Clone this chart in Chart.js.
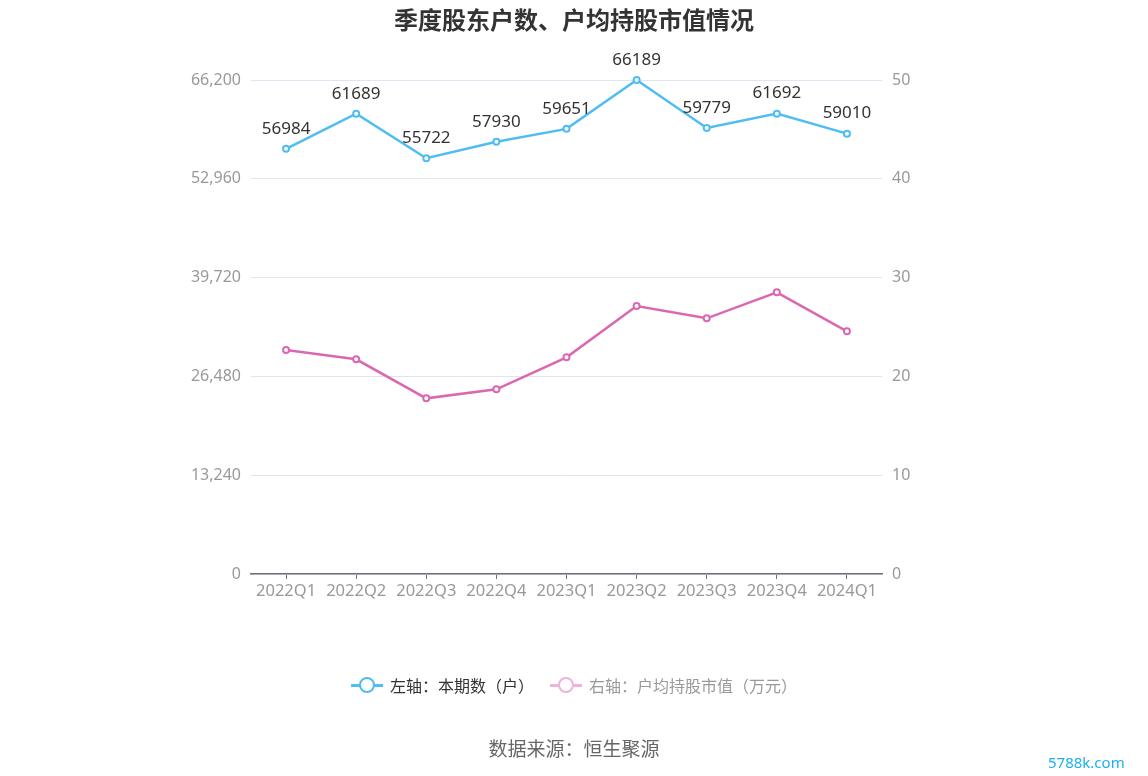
<!DOCTYPE html>
<html lang="zh">
<head>
<meta charset="utf-8">
<title>季度股东户数、户均持股市值情况</title>
<script src="https://cdn.jsdelivr.net/npm/chart.js@4.4.0/dist/chart.umd.min.js"></script>
<style>
  body { margin: 0; background: #fff; font-family: "Noto Sans CJK SC", "Noto Sans", sans-serif; }
  #wrap { position: relative; width: 1148px; height: 776px; }
  #chart { position: absolute; left: 0; top: 0; }
  .title { position: absolute; left: 0; width: 1148px; top: 1px; text-align: center; font-size: 24px; font-weight: bold; color: #333; }
  .legend { position: absolute; top: 673px; left: 0; width: 1148px; display: flex; justify-content: center; font-size: 16px; }
  .item { display: flex; align-items: center; margin: 0 8px; }
  .icon { position: relative; width: 32px; height: 24px; margin-right: 7px; }
  .icon .ln { position: absolute; left: 0; right: 0; top: 11px; height: 2.5px; }
  .icon .dot { position: absolute; left: 8px; top: 4px; width: 12px; height: 12px; border-radius: 50%; background: #fff; border: 2.5px solid; }
  .source { position: absolute; top: 734px; left: 0; width: 1148px; text-align: center; font-size: 19px; color: #666; }
  .mark { position: absolute; left: 1048px; top: 752px; font-size: 15px; color: #1ab0f0; font-family: "Noto Sans", sans-serif; }
</style>
</head>
<body>
<div id="wrap">
  <canvas id="chart" width="1148" height="776"></canvas>
  <div class="title">季度股东户数、户均持股市值情况</div>
  <div class="legend">
    <div class="item" style="color:#333">
      <div class="icon"><div class="ln" style="background:#4fbdf3"></div><div class="dot" style="border-color:#4fbdf3"></div></div>
      左轴：本期数（户）
    </div>
    <div class="item" style="color:#999">
      <div class="icon"><div class="ln" style="background:#eeb3d9"></div><div class="dot" style="border-color:#eeb3d9"></div></div>
      右轴：户均持股市值（万元）
    </div>
  </div>
  <div class="source">数据来源：恒生聚源</div>
  <div class="mark">5788k.com</div>
</div>

<script>
// 季度
var quarters = ["2022Q1", "2022Q2", "2022Q3", "2022Q4", "2023Q1", "2023Q2", "2023Q3", "2023Q4", "2024Q1"];
// 左轴：本期数（户）
var holders = [56984, 61689, 55722, 57930, 59651, 66189, 59779, 61692, 59010];
// 右轴：户均持股市值（万元）
var avgValue = [22.67, 21.73, 17.78, 18.69, 21.93, 27.13, 25.88, 28.51, 24.56];
// 刻度
var leftTicks = [0, 13240, 26480, 39720, 52960, 66200];
var rightTicks = [0, 10, 20, 30, 40, 50];

var blue = "#4fbdf3";
var pink = "#dc67b1";

// 蓝线的数值标签
var pointLabels = {
  id: "pointLabels",
  afterDatasetsDraw: function (chart) {
    var ctx = chart.ctx;
    var meta = chart.getDatasetMeta(0);
    ctx.save();
    ctx.font = "17px 'Noto Sans', sans-serif";
    ctx.fillStyle = "#333";
    ctx.textAlign = "center";
    ctx.textBaseline = "middle";
    meta.data.forEach(function (pt, i) {
      ctx.fillText(String(holders[i]), pt.x, pt.y - 20);
    });
    ctx.restore();
  }
};

var tickFont = { size: 16, family: "'Noto Sans', sans-serif" };

new Chart(document.getElementById("chart").getContext("2d"), {
  type: "line",
  data: {
    labels: quarters,
    datasets: [
      {
        label: "左轴：本期数（户）",
        data: holders,
        yAxisID: "y",
        borderColor: blue,
        backgroundColor: "#fff",
        borderWidth: 2.5,
        pointRadius: 3,
        pointBorderWidth: 2,
        pointBorderColor: blue,
        tension: 0,
        clip: false
      },
      {
        label: "右轴：户均持股市值（万元）",
        data: avgValue,
        yAxisID: "y1",
        borderColor: pink,
        backgroundColor: "#fff",
        borderWidth: 2.5,
        pointRadius: 3,
        pointBorderWidth: 2,
        pointBorderColor: pink,
        tension: 0,
        clip: false
      }
    ]
  },
  options: {
    responsive: false,
    animation: false,
    layout: { padding: { top: 80, left: 0, right: 0, bottom: 0 } },
    plugins: {
      legend: { display: false },
      title: { display: false },
      tooltip: { enabled: false }
    },
    scales: {
      x: {
        offset: true,
        grid: { offset: false, drawOnChartArea: false, drawTicks: true, tickLength: 5, color: "#6E7079" },
        border: { display: true, color: "#6E7079", width: 1.5 },
        ticks: { color: "#999", font: { size: 16.5, family: "'Noto Sans', sans-serif" }, padding: 2, maxRotation: 0 },
        afterFit: function (s) { s.height = 202; }
      },
      y: {
        position: "left",
        min: 0,
        max: 66200,
        afterBuildTicks: function (s) { s.ticks = leftTicks.map(function (v) { return { value: v }; }); },
        ticks: {
          color: "#999",
          font: tickFont,
          padding: 10,
          callback: function (v) { return v.toLocaleString("en-US"); }
        },
        grid: { color: "#E0E6F1", lineWidth: 1, drawTicks: false },
        border: { display: false },
        afterFit: function (s) { s.width = 251; }
      },
      y1: {
        position: "right",
        min: 0,
        max: 50,
        afterBuildTicks: function (s) { s.ticks = rightTicks.map(function (v) { return { value: v }; }); },
        ticks: { color: "#999", font: tickFont, padding: 10 },
        grid: { drawOnChartArea: false, drawTicks: false },
        border: { display: false },
        afterFit: function (s) { s.width = 266; }
      }
    }
  },
  plugins: [pointLabels]
});
</script>
</body>
</html>
